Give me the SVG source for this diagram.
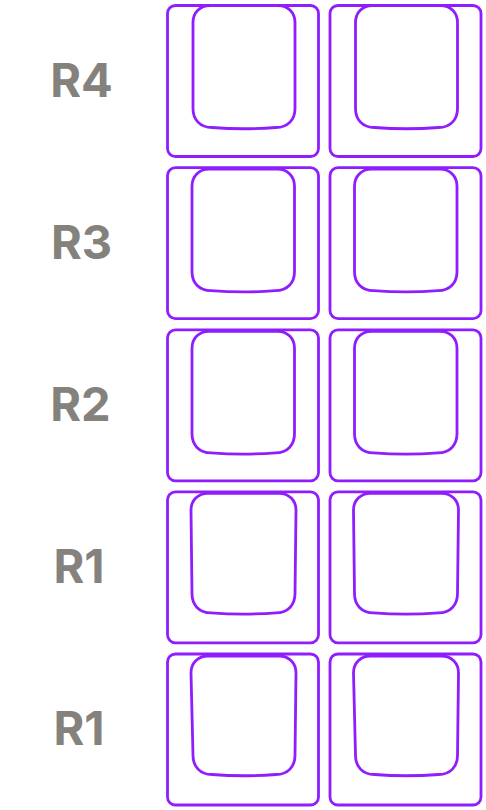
<svg xmlns="http://www.w3.org/2000/svg" width="486" height="810" viewBox="0 0 486 810">
<style>
.outer{fill:none;stroke:#8f1dfd;stroke-width:2.8}
.inner{fill:none;stroke:#8f1dfd;stroke-width:2.8;stroke-linejoin:round}
.lbl{font-family:Inter,"Liberation Sans",sans-serif;font-weight:700;font-size:47px;fill:#85827e;text-anchor:middle}
</style>
<defs>
<path id="k1" d="M42.5,0 H110.5 C120.5,0 127.5,7 127.5,17 V103 C127.5,114 120.5,122 108.5,122 Q76.5,124.5 44.5,122 C32.5,122 25.5,114 25.5,103 V17 C25.5,7 32.5,0 42.5,0 Z"/>
<path id="k2" d="M41.5,1.5 H110 C120,1.5 127,8.5 127,18.5 V104 C127,115 120,123 108,123 Q75.75,125.5 43.5,123 C31.5,123 24.5,115 24.5,104 V18.5 C24.5,8.5 31.5,1.5 41.5,1.5 Z"/>
<path id="k4" d="M40.5,1.5 H111.5 C121.5,1.5 128.5,8.5 128.5,18.5 L127.5,102 C127.5,113 120.5,121 108.5,121 Q76,123.5 43.5,121 C31.5,121 24.5,113 24.5,102 L23.5,18.5 C23.5,8.5 30.5,1.5 40.5,1.5 Z"/>
<path id="k5" d="M40.5,2 H111.5 C121.5,2 128.5,9 128.5,19 L127.5,101.5 C127.5,112.5 120.5,120.5 108.5,120.5 Q76.5,123 44.5,120.5 C32.5,120.5 25.5,112.5 25.5,101.5 L23.5,19 C23.5,9 30.5,2 40.5,2 Z"/>
</defs>
<g id="labels">
<text class="lbl" x="81.5" y="97">R4</text>
<text class="lbl" x="81.5" y="259">R3</text>
<text class="lbl" x="80.5" y="421">R2</text>
<text class="lbl" x="79" y="583">R1</text>
<text class="lbl" x="79" y="745">R1</text>
</g>
<g id="key-r4-1" transform="translate(167.5,5.5)"><rect class="outer" width="151" height="151" rx="8"/><use href="#k1" class="inner"/></g>
<g id="key-r4-2" transform="translate(330,5.5)"><rect class="outer" width="151" height="151" rx="8"/><use href="#k1" class="inner"/></g>
<g id="key-r3-1" transform="translate(167.5,167.7)"><rect class="outer" width="151" height="151" rx="8"/><use href="#k2" class="inner"/></g>
<g id="key-r3-2" transform="translate(330,167.7)"><rect class="outer" width="151" height="151" rx="8"/><use href="#k2" class="inner"/></g>
<g id="key-r2-1" transform="translate(167.5,329.8)"><rect class="outer" width="151" height="151" rx="8"/><use href="#k2" class="inner"/></g>
<g id="key-r2-2" transform="translate(330,329.8)"><rect class="outer" width="151" height="151" rx="8"/><use href="#k2" class="inner"/></g>
<g id="key-r1a-1" transform="translate(167.5,491.8)"><rect class="outer" width="151" height="151" rx="8"/><use href="#k4" class="inner"/></g>
<g id="key-r1a-2" transform="translate(330,491.8)"><rect class="outer" width="151" height="151" rx="8"/><use href="#k4" class="inner"/></g>
<g id="key-r1b-1" transform="translate(167.5,654)"><rect class="outer" width="151" height="151" rx="8"/><use href="#k5" class="inner"/></g>
<g id="key-r1b-2" transform="translate(330,654)"><rect class="outer" width="151" height="151" rx="8"/><use href="#k5" class="inner"/></g>
<g id="connectors"/>
</svg>
